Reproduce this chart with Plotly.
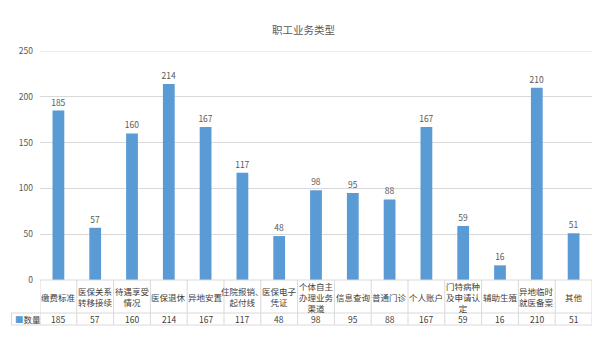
import plotly.graph_objects as go

# Business categories (line breaks match the table cell wrapping)
categories = [
    "缴费标准", "医保关系<br>转移接续", "待遇享受<br>情况", "医保退休", "异地安置",
    "住院报销、<br>起付线", "医保电子<br>凭证", "个体自主<br>办理业务<br>渠道", "信息查询",
    "普通门诊", "个人账户", "门特病种<br>及申请认<br>定", "辅助生殖",
    "异地临时<br>就医备案", "其他",
]
counts = [185, 57, 160, 214, 167, 117, 48, 98, 95, 88, 167, 59, 16, 210, 51]
series_name = "数量"
y_ticks = [0, 50, 100, 150, 200, 250]

W, H = 607, 342
ML, MR, MT, MB = 40, 15, 51, 62
plot_w = W - ML - MR
plot_h = H - MT - MB

BLUE = "#5B9BD5"
GRID = "#D9D9D9"
TXT = "#595959"
FONT = "Noto Sans CJK SC"


def py(pixel_y):
    """Pixel row -> paper y coordinate."""
    return (H - MB - pixel_y) / plot_h


def px(pixel_x):
    """Pixel column -> paper x coordinate."""
    return (pixel_x - ML) / plot_w


xs = list(range(len(categories)))

fig = go.Figure()
fig.add_trace(go.Bar(
    x=xs, y=counts, name=series_name,
    marker=dict(color=BLUE, line=dict(width=0)),
    width=0.32,
    text=[str(v) for v in counts],
    textposition="outside",
    constraintext="none",
    textfont=dict(size=8.5, color=TXT, family=FONT),
    cliponaxis=False,
    showlegend=False,
))

shapes = []
line = dict(color=GRID, width=1)
# top gridline at the upper end of the value axis
shapes.append(dict(type="line", xref="paper", yref="y",
                   x0=0, x1=1, y0=y_ticks[-1], y1=y_ticks[-1], line=line, layer="below"))
top, mid, bot = 280, 313, 325
# horizontal table rules
shapes.append(dict(type="line", xref="paper", yref="paper",
                   x0=0, x1=1, y0=py(top), y1=py(top), line=line))
for yy in (mid, bot):
    shapes.append(dict(type="line", xref="paper", yref="paper",
                       x0=px(11.5), x1=1, y0=py(yy), y1=py(yy), line=line))
# column borders
for i in range(len(categories) + 1):
    shapes.append(dict(type="line", xref="x", yref="paper",
                       x0=i - 0.5, x1=i - 0.5, y0=py(top), y1=py(bot), line=line))
# left border of the legend cell
shapes.append(dict(type="line", xref="paper", yref="paper",
                   x0=px(11.5), x1=px(11.5), y0=py(mid), y1=py(bot), line=line))

annotations = []
for i, (c, v) in enumerate(zip(categories, counts)):
    annotations.append(dict(
        x=i, y=py((top + mid) / 2), xref="x", yref="paper",
        text=c, showarrow=False, xanchor="center", yanchor="middle",
        font=dict(size=8.5, color="#404040", family=FONT),
    ))
    annotations.append(dict(
        x=i, y=py((mid + bot) / 2), xref="x", yref="paper",
        text=str(v), showarrow=False, xanchor="center", yanchor="middle",
        font=dict(size=8.5, color="#404040", family=FONT),
    ))
# legend key in the table
annotations.append(dict(
    x=px(13), y=py((mid + bot) / 2), xref="paper", yref="paper",
    text=f"<span style='color:{BLUE}'>■</span>{series_name}",
    showarrow=False, xanchor="left", yanchor="middle",
    font=dict(size=8.5, color="#404040", family=FONT),
))

fig.update_layout(
    width=W, height=H,
    margin=dict(l=ML, r=MR, t=MT, b=MB),
    paper_bgcolor="white", plot_bgcolor="white",
    title=dict(text="职工业务类型", x=0.5, xanchor="center", y=1 - 30 / H, yanchor="middle",
               font=dict(size=10.5, color=TXT, family=FONT)),
    xaxis=dict(range=[-0.5, len(categories) - 0.5], showticklabels=False,
               showgrid=False, zeroline=False, showline=False, ticks=""),
    yaxis=dict(range=[0, 250], tickvals=y_ticks, showgrid=True, gridcolor=GRID,
               gridwidth=1, zeroline=False, showline=False, ticks="",
               tickfont=dict(size=8.5, color=TXT, family=FONT), ticklabelstandoff=6),
    shapes=shapes,
    annotations=annotations,
    bargap=0.68,
    font=dict(family=FONT),
)

fig.write_html("out.html")
